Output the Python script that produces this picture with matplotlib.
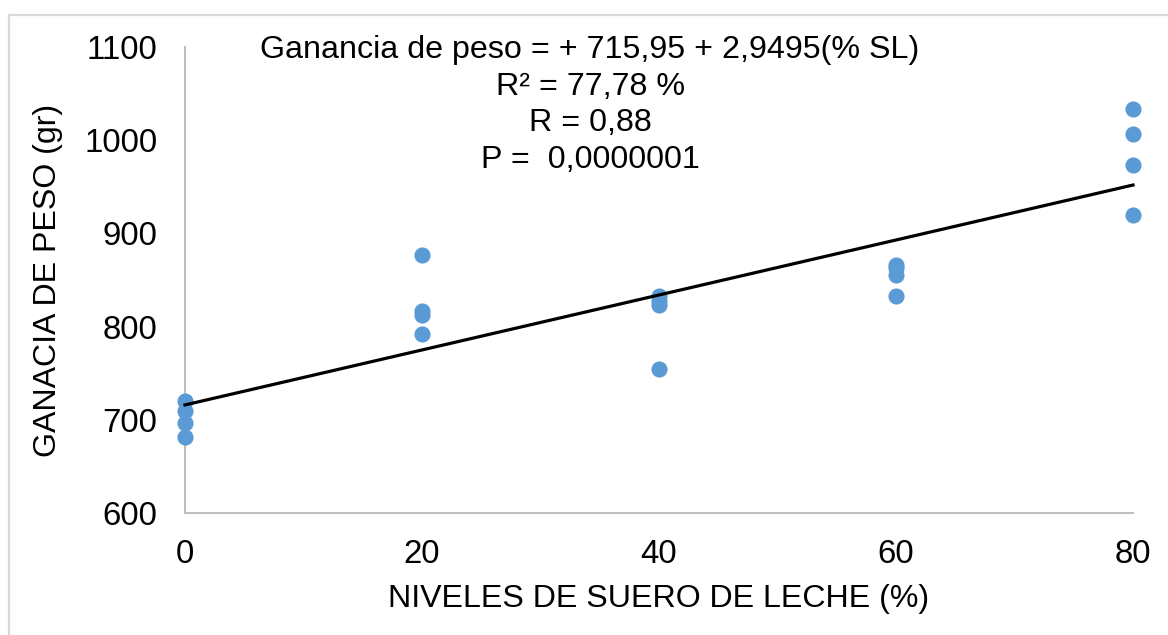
import matplotlib
matplotlib.use("Agg")
import matplotlib.pyplot as plt
from matplotlib.lines import Line2D

plt.rcParams['font.family'] = ['Liberation Sans', 'DejaVu Sans']

# Whey inclusion level (%) and weight gain (g) per animal
niveles = [0, 0, 0, 0,
           20, 20, 20, 20,
           40, 40, 40, 40,
           60, 60, 60, 60,
           80, 80, 80, 80]
ganancia = [720, 709, 697, 682,
            877, 817, 812, 792,
            833, 828, 823, 754,
            866, 863, 855, 833,
            1033, 1007, 973, 920]

intercepto = 715.95
pendiente = 2.9495
x_ticks = [0, 20, 40, 60, 80]
y_ticks = [600, 700, 800, 900, 1000, 1100]

fig = plt.figure(figsize=(11.68, 6.35), dpi=100)
ax = fig.add_axes([185 / 1168, 1 - 513 / 635, (1133 - 185) / 1168, (513 - 47) / 635])

ax.scatter(niveles, ganancia, s=135, color='#5B9BD5', zorder=3, linewidths=0, clip_on=False)

xs = [min(x_ticks), max(x_ticks)]
ax.plot(xs, [intercepto + pendiente * x for x in xs], color='black', lw=2.3, zorder=4,
        clip_on=False)

ax.set_xlim(0, 80)
ax.set_ylim(600, 1100)
ax.set_xticks(x_ticks)
ax.set_yticks(y_ticks)
ax.tick_params(axis='both', length=0, labelsize=23.8, colors='black')
ax.tick_params(axis='y', pad=20)
ax.tick_params(axis='x', pad=19)

for s in ['top', 'right']:
    ax.spines[s].set_visible(False)
for s in ['left', 'bottom']:
    ax.spines[s].set_color('#BFBFBF')
    ax.spines[s].set_linewidth(1.5)

ax.set_xlabel('NIVELES DE SUERO DE LECHE (%)', fontsize=23.1, labelpad=10)
ax.set_ylabel('GANACIA DE PESO (gr)', fontsize=23.1, labelpad=15)

fig.text(590 / 1168, 1 - 35 / 635,
         'Ganancia de peso = + 715,95 + 2,9495(% SL)\nR² = 77,78 %\nR = 0,88\nP =  0,0000001',
         ha='center', va='top', fontsize=23.2, linespacing=1.29, multialignment='center')

# Light frame around the chart area
fig.add_artist(Line2D([9 / 1168, 1], [1 - 14.5 / 635] * 2, transform=fig.transFigure,
                      color='#D9D9D9', lw=1.6))
fig.add_artist(Line2D([9 / 1168] * 2, [0, 1 - 14.5 / 635], transform=fig.transFigure,
                      color='#D9D9D9', lw=1.6))

fig.savefig('out.png', dpi=100)
